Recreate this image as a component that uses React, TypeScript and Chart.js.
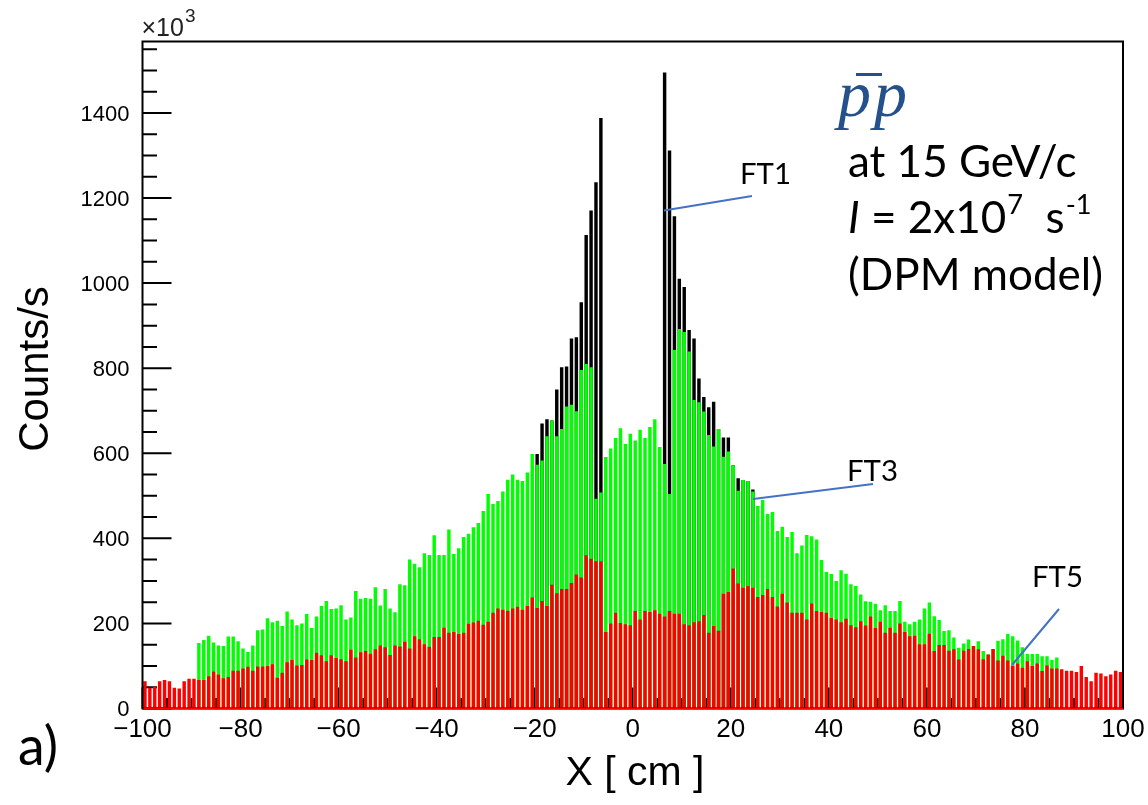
import React, { useEffect, useRef } from "react";
import { Chart, registerables } from "chart.js";

Chart.register(...registerables);

// ---------- data ----------
const X_MIN = -100;
const X_MAX = 100;
const Y_MAX = 1568;
// bin centres (1 cm bins from -100 to 100)
const binCenters: number[] = Array.from({ length: 200 }, (_, i) => X_MIN + i + 0.5);

const xTickValues = [-100, -80, -60, -40, -20, 0, 20, 40, 60, 80, 100];
const yTickValues = [0, 200, 400, 600, 800, 1000, 1200, 1400];

const _ = null;

// FT5 (red)
const ft5: number[] = [
  64, 49, 51, 64, 67, 64, 49, 47, 64, 70,
  70, 67, 67, 76, 87, 80, 71, 74, 89, 89,
  94, 98, 89, 99, 99, 100, 104, 72, 84, 109,
  114, 101, 102, 115, 114, 131, 125, 111, 125, 119,
  116, 111, 138, 120, 132, 135, 129, 139, 148, 144,
  126, 148, 146, 157, 141, 170, 163, 151, 145, 168,
  168, 190, 178, 180, 175, 178, 199, 202, 206, 197,
  204, 225, 235, 232, 230, 235, 239, 232, 241, 261,
  236, 253, 241, 291, 271, 281, 281, 295, 315, 308,
  360, 352, 346, 346, 180, 200, 225, 201, 198, 196,
  229, 209, 229, 227, 231, 223, 216, 229, 223, 223,
  198, 196, 203, 205, 220, 178, 194, 183, 270, 274,
  329, 294, 284, 288, 284, 262, 267, 281, 262, 240,
  270, 249, 225, 225, 225, 209, 247, 229, 227, 225,
  213, 209, 203, 211, 196, 191, 205, 195, 216, 189,
  204, 178, 190, 178, 200, 180, 170, 171, 151, 151,
  176, 135, 149, 149, 136, 139, 115, 136, 140, 147,
  139, 116, 127, 140, 113, 124, 113, 100, 106, 96,
  111, 100, 106, 88, 101, 94, 94, 92, 89, 89,
  86, 100, 74, 64, 84, 82, 76, 80, 89, 86,
];

// FT3 (green)
const ft3: (number | null)[] = [
  _, _, _, _, _, _, _, _, _, _,
  _, 154, 161, 171, 155, 148, 147, 169, 169, 158,
  141, 133, 148, 184, 186, 212, 203, 206, 194, 228,
  209, 196, 200, 222, 189, 216, 241, 253, 234, 235,
  243, 209, 214, 276, 258, 260, 258, 285, 242, 281,
  235, 226, 292, 290, 350, 340, 332, 365, 361, 407,
  361, 361, 421, 363, 377, 403, 411, 426, 436, 464,
  504, 481, 488, 510, 538, 550, 538, 535, 555, 598,
  573, 583, 640, 677, 640, 657, 710, 714, 699, 796,
  810, 802, 493, 508, 591, 611, 636, 659, 622, 646,
  630, 655, 636, 662, 680, 615, 575, 504, 843, 892,
  885, 839, 725, 720, 698, 643, 616, 657, 592, 604,
  572, 512, 537, 535, 510, 476, 490, 457, 462, 417,
  427, 403, 415, 365, 383, 408, 405, 397, 349, 321,
  316, 300, 325, 317, 292, 288, 268, 252, 251, 246,
  231, 243, 229, 229, 253, 204, 198, 204, 209, 235,
  249, 217, 208, 182, 184, 167, 143, 153, 162, 147,
  158, 135, 127, 140, 159, 163, 175, 170, 160, 144,
  128, 128, 128, 123, 123, 114, 120, _, _, _,
  _, _, _, _, _, _, _, _, _, _,
];

// FT1 (black)
const ft1: (number | null)[] = [
  _, _, _, _, _, _, _, _, _, _,
  _, _, _, _, _, _, _, _, _, _,
  _, _, _, _, _, _, _, _, _, _,
  _, _, _, _, _, _, _, _, _, _,
  _, _, _, _, _, _, _, _, _, _,
  _, _, _, _, _, _, _, _, _, _,
  _, _, _, _, _, _, _, _, _, _,
  _, _, _, _, _, _, _, _, _, _,
  598, 670, 680, 677, 750, 802, 804, 870, 873, 955,
  1113, 1171, 1237, 1388, _, _, _, _, _, _,
  _, _, _, _, _, _, 1495, 1312, 1157, 1010,
  991, 890, 870, 776, 732, 708, 721, 657, 637, 637,
  572, 541, 537, 535, 515, _, _, _, _, _,
  _, _, _, _, _, _, _, _, _, _,
  _, _, _, _, _, _, _, _, _, _,
  _, _, _, _, _, _, _, _, _, _,
  _, _, _, _, _, _, _, _, _, _,
  _, _, _, _, _, _, _, _, _, _,
  _, _, _, _, _, _, _, _, _, _,
  _, _, _, _, _, _, _, _, _, _,
];

// ---------- styling ----------
const AXIS_FONT = '"Liberation Sans", Arial, Helvetica, sans-serif';
const TEXT_FONT = 'Lato, "Noto Sans", sans-serif';
const SERIF_FONT = '"Liberation Serif", "DejaVu Serif", serif';
const NOTE_BLUE = "#4472C4";

const toPoints = (arr: (number | null)[]) =>
  arr.map((v, i) => ({ x: binCenters[i], y: v }));

const fmtTick = (v: number) => (v < 0 ? "\u2212" + Math.abs(v) : String(v));

function fitSize(ctx: CanvasRenderingContext2D, text: string, font: string, target: number) {
  ctx.font = `100px ${font}`;
  const w = ctx.measureText(text).width;
  return (100 * target) / w;
}

const rootPlugin = {
  id: "rootStyle",
  beforeDatasetsDraw(chart: any) {
    const { ctx, chartArea: a, scales } = chart;
    const x = scales.x;
    const y = scales.y;
    ctx.save();
    ctx.strokeStyle = "#000";
    ctx.lineWidth = 2;
    ctx.beginPath();
    for (let v = 0; v <= 1550; v += 50) {
      const py = y.getPixelForValue(v);
      const len = v % 200 === 0 ? 29 : 14.5;
      ctx.moveTo(a.left, py);
      ctx.lineTo(a.left + len, py);
    }
    for (let v = X_MIN; v <= X_MAX; v += 5) {
      const px = x.getPixelForValue(v);
      const len = v % 20 === 0 ? 21 : 10.5;
      ctx.moveTo(px, a.bottom);
      ctx.lineTo(px, a.bottom - len);
    }
    ctx.stroke();
    ctx.restore();
  },
  afterDatasetsDraw(chart: any) {
    const { ctx, chartArea: a, scales } = chart;
    const x = scales.x;
    const y = scales.y;
    ctx.save();
    ctx.strokeStyle = "#000";
    ctx.lineWidth = 2;
    ctx.strokeRect(a.left, a.top, a.right - a.left, a.bottom - a.top);
    ctx.strokeStyle = "#ff0000";
    ctx.beginPath();
    ctx.moveTo(x.getPixelForValue(X_MIN) + 1, y.getPixelForValue(0));
    ctx.lineTo(x.getPixelForValue(X_MAX), y.getPixelForValue(0));
    ctx.stroke();
    ctx.restore();
  },
  afterDraw(chart: any) {
    const { ctx, chartArea: a, scales } = chart;
    const x = scales.x;
    const y = scales.y;
    ctx.save();
    ctx.fillStyle = "#000";

    // y tick labels
    ctx.font = `22px ${AXIS_FONT}`;
    ctx.textAlign = "right";
    ctx.textBaseline = "alphabetic";
    for (const v of yTickValues) {
      ctx.fillText(String(v), a.left - 13, y.getPixelForValue(v) + 7.8);
    }
    // x tick labels
    ctx.font = `26px ${AXIS_FONT}`;
    ctx.textAlign = "center";
    for (const v of xTickValues) {
      ctx.fillText(fmtTick(v), x.getPixelForValue(v), 737);
    }

    // exponent x10^3
    ctx.textAlign = "left";
    ctx.font = `25px ${AXIS_FONT}`;
    ctx.fillStyle = "#222";
    ctx.fillText("\u00d710", a.left - 1, 36);
    const w10 = ctx.measureText("\u00d710").width;
    ctx.font = `19px ${AXIS_FONT}`;
    ctx.fillText("3", a.left + w10, 22);
    ctx.fillStyle = "#000";

    // axis titles
    ctx.font = `42px ${AXIS_FONT}`;
    ctx.save();
    ctx.translate(48, 369);
    ctx.rotate(-Math.PI / 2);
    ctx.textAlign = "center";
    ctx.fillText("Counts/s", 0, 0);
    ctx.restore();
    ctx.textAlign = "center";
    ctx.font = `41px ${AXIS_FONT}`;
    ctx.fillText("X [ cm ]", 635, 785);

    // panel label
    ctx.textAlign = "left";
    const aSize = fitSize(ctx, "a)", TEXT_FONT, 40);
    ctx.font = `${aSize}px ${TEXT_FONT}`;
    ctx.fillText("a)", 18, 765);

    // annotation lines
    ctx.strokeStyle = NOTE_BLUE;
    ctx.lineWidth = 2;
    ctx.beginPath();
    ctx.moveTo(664, 210.5); ctx.lineTo(752, 196);
    ctx.moveTo(753, 499); ctx.lineTo(873, 484);
    ctx.moveTo(1012, 665); ctx.lineTo(1059, 609);
    ctx.stroke();

    // annotation labels
    const ftSize = fitSize(ctx, "FT1", TEXT_FONT, 51);
    ctx.font = `${ftSize}px ${TEXT_FONT}`;
    ctx.fillStyle = "#000";
    ctx.fillText("FT1", 740, 184);
    ctx.fillText("FT3", 847, 481);
    ctx.fillText("FT5", 1032, 587);

    // p-bar p
    ctx.fillStyle = "#24508C";
    ctx.font = `italic 66px ${SERIF_FONT}`;
    ctx.fillText("p", 838, 116);
    const pw = ctx.measureText("p").width;
    ctx.fillText("p", 838 + pw + 3, 116);
    ctx.fillRect(856, 73, 26, 3);

    // info text
    ctx.fillStyle = "#000";
    const infoSize = fitSize(ctx, "(DPM model)", TEXT_FONT, 255);
    const f = `${infoSize}px ${TEXT_FONT}`;
    const fi = `italic ${infoSize}px ${TEXT_FONT}`;
    const fs = `${infoSize * 0.62}px ${TEXT_FONT}`;
    ctx.font = f;
    ctx.fillText("at 15 GeV/c", 848, 177);
    let cx = 848;
    ctx.font = fi;
    ctx.fillText("I", cx, 233);
    cx += ctx.measureText("I").width;
    ctx.font = f;
    ctx.fillText(" = 2x10", cx, 233);
    cx += ctx.measureText(" = 2x10").width;
    ctx.font = fs;
    ctx.fillText("7", cx + 1, 214);
    cx += ctx.measureText("7").width + 1;
    ctx.font = f;
    ctx.fillText("  s", cx, 233);
    cx += ctx.measureText("  s").width;
    ctx.font = fs;
    ctx.fillText("-1", cx + 1, 214);
    ctx.font = f;
    ctx.fillText("(DPM model)", 848, 290);
    ctx.restore();
  },
};

export default function App() {
  const ref = useRef<HTMLCanvasElement>(null);
  useEffect(() => {
    document.body.style.margin = "0";
    const canvas = ref.current;
    if (!canvas) return;
    const common = {
      grouped: false,
      barPercentage: 0.7,
      categoryPercentage: 1,
      borderWidth: 0,
    };
    const chart = new Chart(canvas, {
      type: "bar",
      data: {
        datasets: [
          { ...common, label: "FT5", data: toPoints(ft5), backgroundColor: "#ff0000" },
          { ...common, label: "FT3", data: toPoints(ft3), backgroundColor: "#00ff00" },
          { ...common, label: "FT1", data: toPoints(ft1), backgroundColor: "#000000" },
        ] as any,
      },
      options: {
        responsive: false,
        animation: false,
        devicePixelRatio: 1,
        layout: { padding: { left: 142.5, right: 25, top: 41.5, bottom: 96.5 } },
        plugins: { legend: { display: false }, tooltip: { enabled: false }, title: { display: false } },
        scales: {
          x: {
            type: "linear",
            min: X_MIN,
            max: X_MAX,
            offset: false,
            ticks: { display: false, stepSize: 20 },
            grid: { display: false, drawTicks: false },
            border: { display: false },
          },
          y: {
            type: "linear",
            min: 0,
            max: Y_MAX,
            ticks: { display: false, stepSize: 200 },
            grid: { display: false, drawTicks: false },
            border: { display: false },
          },
        },
      } as any,
      plugins: [rootPlugin],
    });
    return () => chart.destroy();
  }, []);
  return (
    <div style={{ width: 1148, height: 805, position: "relative", background: "#fff" }}>
      <canvas ref={ref} width={1148} height={805} style={{ display: "block", width: 1148, height: 805 }} />
    </div>
  );
}
